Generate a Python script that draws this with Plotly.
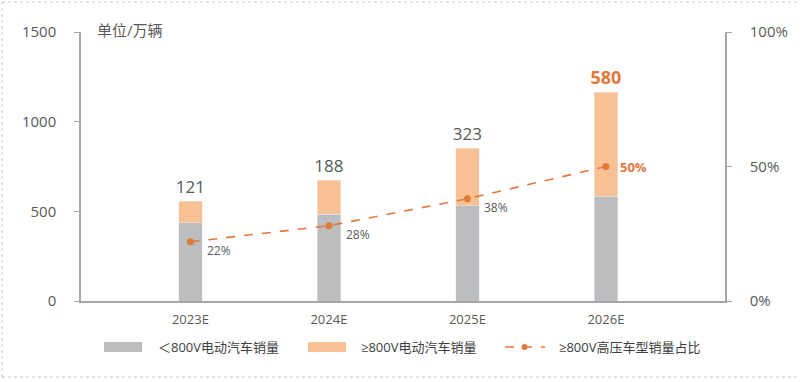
import plotly.graph_objects as go

categories = ["2023E", "2024E", "2025E", "2026E"]
below_800v = [435, 485, 530, 585]
above_800v = [121, 188, 323, 580]
share_800v = [22, 28, 38, 50]

left_ticks = [0, 500, 1000, 1500]
right_ticks = [0, 50, 100]

GRAY = "#bcbdbf"
PEACH = "#f8c194"
ORANGE = "#e2783a"
TXT = "#595959"
AX = "#a6a6a6"
FONT = "Open Sans, DejaVu Sans, Noto Sans CJK SC, sans-serif"

W, H = 802, 382
L, R, T, B = 81, 725, 32, 301
pw, ph = R - L, B - T


def px(x):
    return (x - L) / pw


def py(y):
    return (B - y) / ph


fig = go.Figure()
fig.add_bar(x=categories, y=below_800v, marker_color=GRAY, width=0.17,
            name="＜800V电动汽车销量", hoverinfo="skip")
fig.add_bar(x=categories, y=above_800v, marker_color=PEACH, width=0.17,
            name="≥800V电动汽车销量",
            text=[str(v) for v in above_800v[:-1]] + [f"<b>{above_800v[-1]}</b>"],
            textposition="outside", cliponaxis=False, constraintext="none",
            textfont=dict(color=[TXT, TXT, TXT, ORANGE], size=[17, 17, 17, 18],
                          family=FONT))
fig.add_scatter(x=categories, y=share_800v, yaxis="y2", mode="lines+markers",
                line=dict(color=ORANGE, dash="dash", width=1.6),
                marker=dict(color=ORANGE, size=7),
                name="≥800V高压车型销量占比", cliponaxis=False)

# percentage labels next to the points
for i, (c, v) in enumerate(zip(categories, share_800v)):
    last = i == len(categories) - 1
    fig.add_annotation(x=c, y=v, xref="x", yref="y2",
                       text=f"<b>{v}%</b>" if last else f"{v}%",
                       showarrow=False, xanchor="left", yanchor="middle",
                       xshift=12 if last else 15, yshift=0 if last else -9,
                       font=dict(size=13 if last else 12, color=ORANGE if last else TXT,
                                 family=FONT))

fig.update_layout(
    width=W, height=H,
    margin=dict(l=L, r=W - R, t=T, b=H - B, autoexpand=False),
    barmode="stack", showlegend=False,
    plot_bgcolor="white", paper_bgcolor="white",
    font=dict(family=FONT, color=TXT),
    xaxis=dict(range=[-0.79, 3.86], showline=True, linecolor=AX, linewidth=1.5,
               ticks="", tickfont=dict(size=13, color=TXT), showgrid=False,
               ticklabelstandoff=6, automargin=False),
    yaxis=dict(range=[0, 1500], tickvals=left_ticks, showline=True, linecolor=AX,
               linewidth=1.5, ticks="outside", ticklen=5, tickcolor=AX,
               tickfont=dict(size=15, color=TXT), showgrid=False, zeroline=False,
               ticklabelstandoff=15, automargin=False),
    yaxis2=dict(range=[0, 100], tickvals=right_ticks,
                ticktext=[f"{t}%" for t in right_ticks], overlaying="y",
                side="right", showline=True, linecolor=AX, linewidth=1.5,
                ticks="outside", ticklen=5, tickcolor=AX,
                tickfont=dict(size=15, color=TXT), showgrid=False, zeroline=False,
                ticklabelstandoff=15, automargin=False),
)

fig.add_annotation(xref="paper", yref="paper", x=px(95), y=py(30), text="单位/万辆",
                   showarrow=False, xanchor="left", yanchor="middle",
                   font=dict(size=15, color=TXT, family=FONT))

# legend
ly = py(347)
sh = 5 / ph
fig.add_shape(type="rect", xref="paper", yref="paper", x0=px(104), x1=px(142),
              y0=ly - sh, y1=ly + sh, fillcolor=GRAY, line_width=0)
fig.add_shape(type="rect", xref="paper", yref="paper", x0=px(308), x1=px(346),
              y0=ly - sh, y1=ly + sh, fillcolor=PEACH, line_width=0)
fig.add_shape(type="line", xref="paper", yref="paper", x0=px(505), x1=px(545),
              y0=ly, y1=ly, line=dict(color=ORANGE, dash="dash", width=1.6))
fig.add_shape(type="circle", xref="paper", yref="paper", x0=px(521.5), x1=px(527.5),
              y0=ly - 3 / ph, y1=ly + 3 / ph, fillcolor=ORANGE, line_width=0)
for xpos, label in [(156, "＜800V电动汽车销量"), (359, "≥800V电动汽车销量"),
                    (557, "≥800V高压车型销量占比")]:
    fig.add_annotation(xref="paper", yref="paper", x=px(xpos), y=ly, text=label,
                       showarrow=False, xanchor="left", yanchor="middle",
                       font=dict(size=13, color="#404040", family=FONT))

# outer dotted frame
for x0, y0, x1, y1 in [(2, 2, 800, 2), (2, 2, 2, 377), (2, 377, 800, 377)]:
    fig.add_shape(type="line", xref="paper", yref="paper", x0=px(x0), x1=px(x1),
                  y0=py(y0), y1=py(y1), line=dict(color="#c8c8c8", dash="dot", width=1))

fig.write_html("out.html", config={"displayModeBar": False},
               post_script="document.body.style.margin='0';document.body.style.overflow='hidden';")
